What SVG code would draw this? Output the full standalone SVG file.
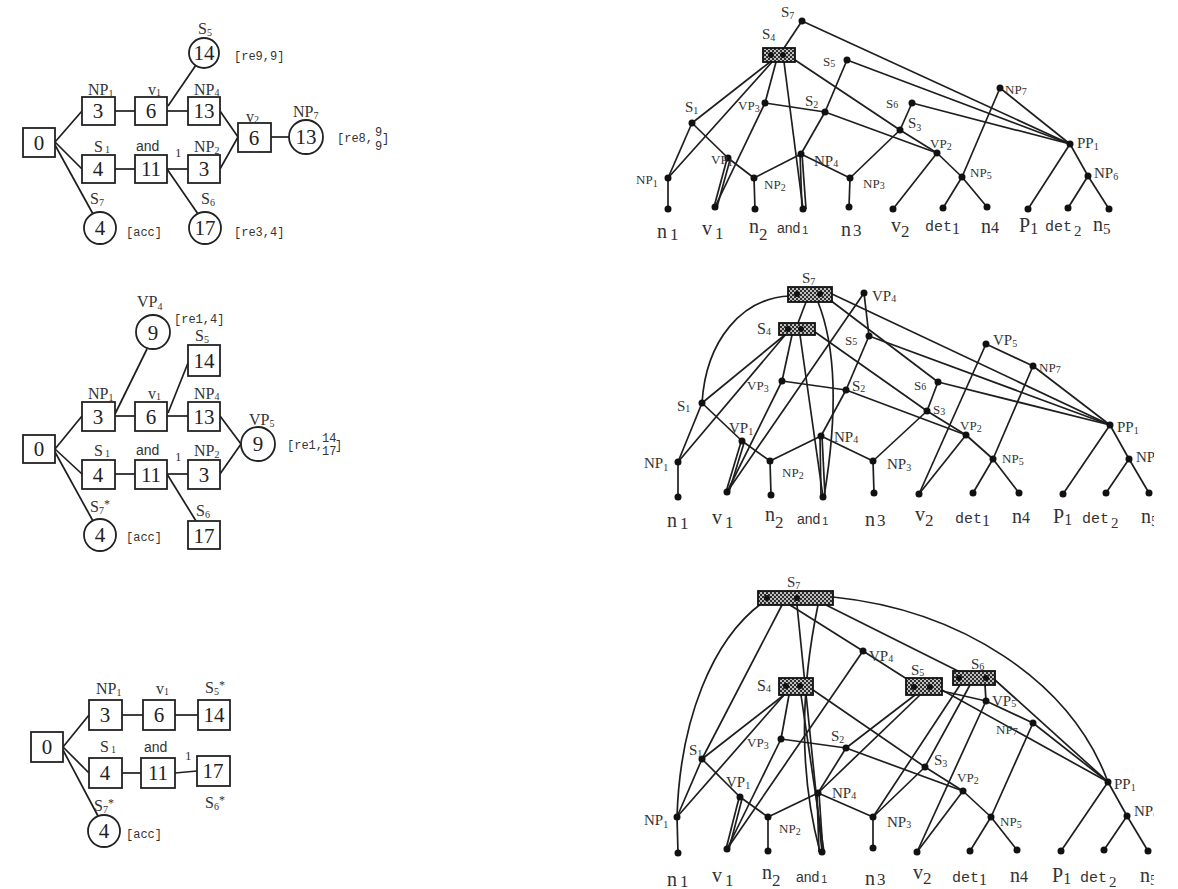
<svg xmlns="http://www.w3.org/2000/svg" width="1178" height="889" viewBox="0 0 1178 889">
<style>
.e{stroke:#1e1e1e;stroke-width:1.7;fill:none}
.d{fill:#111}
.bx{fill:#fff;stroke:#222;stroke-width:1.8}
.ci{fill:#fff;stroke:#222;stroke-width:1.8}
.hb{fill:url(#hatch);stroke:#111;stroke-width:1.8}
.num{font-family:"Liberation Serif",serif;font-size:21px;text-anchor:middle;fill:#222}
.lb{font-family:"Liberation Serif",serif;font-size:16px;fill:#333}
.br{font-family:"Liberation Mono",monospace;font-size:12px;fill:#333}
.tl{font-family:"Liberation Serif",serif;font-size:15px;fill:#333}
.sm{font-family:"Liberation Serif",serif;font-size:13px;fill:#333}
.lf{font-family:"Liberation Serif",serif;font-size:20px;fill:#333}
.lm{font-family:"Liberation Mono",monospace;font-size:15px;fill:#333}
.la{font-family:"Liberation Sans",sans-serif;font-size:14px;fill:#333}
.s{font-size:10px}
.s2{font-size:12px}
</style>
<defs>
<pattern id="hatch" width="4" height="4" patternUnits="userSpaceOnUse">
<rect width="4" height="4" fill="#2e2e2e"/>
<rect width="2" height="2" fill="#bdbdbd"/>
<rect x="2" y="2" width="2" height="2" fill="#bdbdbd"/>
</pattern>
<clipPath id="crop"><rect x="0" y="0" width="1154" height="889"/></clipPath>
</defs>

<!-- ============ connectors ============ -->
<g id="connectors" class="e">
<!-- left top -->
<line x1="55" y1="142" x2="82" y2="111"/>
<line x1="55" y1="142" x2="82" y2="169"/>
<line x1="55" y1="145" x2="93" y2="214"/>
<line x1="115" y1="111" x2="135" y2="111"/>
<line x1="167" y1="111" x2="188" y2="111"/>
<line x1="168" y1="106" x2="196" y2="65"/>
<line x1="220" y1="111" x2="238" y2="137"/>
<line x1="220" y1="169" x2="238" y2="137"/>
<line x1="271" y1="137" x2="289" y2="137"/>
<line x1="115" y1="169" x2="135" y2="169"/>
<line x1="167" y1="169" x2="188" y2="169"/>
<line x1="167" y1="169" x2="198" y2="214"/>
<!-- left middle -->
<line x1="55" y1="449" x2="82" y2="416"/>
<line x1="55" y1="449" x2="82" y2="474"/>
<line x1="55" y1="452" x2="93" y2="521"/>
<line x1="115" y1="416" x2="135" y2="416"/>
<line x1="115" y1="414" x2="147" y2="349"/>
<line x1="167" y1="416" x2="188" y2="416"/>
<line x1="168" y1="413" x2="188" y2="363"/>
<line x1="220" y1="416" x2="241" y2="444"/>
<line x1="220" y1="474" x2="241" y2="444"/>
<line x1="115" y1="474" x2="135" y2="474"/>
<line x1="167" y1="474" x2="188" y2="474"/>
<line x1="167" y1="474" x2="196" y2="521"/>
<!-- left bottom -->
<line x1="63" y1="747" x2="89" y2="715"/>
<line x1="63" y1="747" x2="89" y2="773"/>
<line x1="63" y1="750" x2="98" y2="816"/>
<line x1="122" y1="715" x2="143" y2="715"/>
<line x1="175" y1="715" x2="198" y2="715"/>
<line x1="122" y1="773" x2="141" y2="773"/>
<line x1="175" y1="773" x2="197" y2="771"/>

<!-- top tree -->
<line x1="668" y1="178" x2="668" y2="209"/>
<line x1="754" y1="178" x2="755" y2="209"/>
<line x1="850" y1="178" x2="849" y2="207"/>
<line x1="692" y1="123" x2="668" y2="178"/>
<line x1="692" y1="123" x2="728" y2="158"/>
<line x1="728" y1="158" x2="754" y2="178"/>
<line x1="727" y1="159" x2="714" y2="207"/>
<line x1="730" y1="160" x2="717" y2="207"/>
<line x1="772" y1="62" x2="668" y2="178"/>
<line x1="770" y1="62" x2="692" y2="123"/>
<line x1="776" y1="62" x2="765" y2="103"/>
<line x1="784" y1="62" x2="803" y2="209"/>
<line x1="795" y1="60" x2="900" y2="130"/>
<line x1="802" y1="21" x2="784" y2="48"/>
<line x1="765" y1="103" x2="715" y2="207"/>
<line x1="765" y1="103" x2="825" y2="112"/>
<line x1="847" y1="60" x2="825" y2="112"/>
<line x1="825" y1="112" x2="801" y2="154"/>
<line x1="825" y1="112" x2="937" y2="153"/>
<line x1="801" y1="154" x2="754" y2="178"/>
<line x1="801" y1="154" x2="850" y2="178"/>
<line x1="800" y1="154" x2="802" y2="209"/>
<line x1="802" y1="154" x2="806" y2="209"/>
<line x1="850" y1="178" x2="900" y2="130"/>
<line x1="912" y1="103" x2="900" y2="130"/>
<line x1="900" y1="130" x2="937" y2="153"/>
<line x1="937" y1="153" x2="893" y2="209"/>
<line x1="937" y1="153" x2="962" y2="177"/>
<line x1="962" y1="177" x2="943" y2="208"/>
<line x1="962" y1="177" x2="987" y2="207"/>
<line x1="1000" y1="88" x2="962" y2="177"/>
<line x1="1000" y1="88" x2="1070" y2="144"/>
<line x1="802" y1="21" x2="1070" y2="144"/>
<line x1="847" y1="60" x2="1070" y2="144"/>
<line x1="912" y1="103" x2="1070" y2="144"/>
<line x1="1070" y1="144" x2="1028" y2="209"/>
<line x1="1070" y1="144" x2="1088" y2="176"/>
<line x1="1088" y1="176" x2="1068" y2="208"/>
<line x1="1088" y1="176" x2="1109" y2="209"/>

<!-- middle tree -->
<line x1="678" y1="462" x2="678" y2="497"/>
<line x1="770" y1="461" x2="771" y2="495"/>
<line x1="873" y1="461" x2="874" y2="493"/>
<line x1="702" y1="403" x2="678" y2="462"/>
<line x1="702" y1="403" x2="742" y2="441"/>
<line x1="742" y1="441" x2="770" y2="461"/>
<line x1="741" y1="442" x2="726" y2="492"/>
<line x1="744" y1="443" x2="729" y2="492"/>
<line x1="786" y1="334" x2="678" y2="462"/>
<line x1="786" y1="334" x2="702" y2="403"/>
<line x1="792" y1="335" x2="782" y2="381"/>
<line x1="800" y1="335" x2="823" y2="497"/>
<line x1="815" y1="332" x2="927" y2="411"/>
<line x1="806" y1="302" x2="798" y2="323"/>
<path d="M790,296 C742,298 706,340 702,403"/>
<path d="M818,302 Q845,370 824,497"/>
<line x1="782" y1="381" x2="727" y2="492"/>
<line x1="864" y1="293" x2="727" y2="492"/>
<line x1="864" y1="293" x2="869" y2="336"/>
<line x1="782" y1="381" x2="846" y2="390"/>
<line x1="869" y1="336" x2="846" y2="390"/>
<line x1="846" y1="390" x2="821" y2="436"/>
<line x1="846" y1="390" x2="966" y2="435"/>
<line x1="821" y1="436" x2="770" y2="461"/>
<line x1="821" y1="436" x2="873" y2="461"/>
<line x1="820" y1="436" x2="821" y2="497"/>
<line x1="822" y1="436" x2="825" y2="497"/>
<line x1="873" y1="461" x2="927" y2="411"/>
<line x1="938" y1="382" x2="927" y2="411"/>
<line x1="927" y1="411" x2="966" y2="435"/>
<line x1="966" y1="435" x2="919" y2="494"/>
<line x1="966" y1="435" x2="993" y2="459"/>
<line x1="993" y1="459" x2="973" y2="493"/>
<line x1="993" y1="459" x2="1019" y2="493"/>
<line x1="986" y1="344" x2="919" y2="494"/>
<line x1="986" y1="344" x2="1033" y2="366"/>
<line x1="1033" y1="366" x2="993" y2="459"/>
<line x1="1033" y1="366" x2="1110" y2="425"/>
<line x1="832" y1="294" x2="1110" y2="425"/>
<line x1="830" y1="300" x2="938" y2="382"/>
<line x1="869" y1="336" x2="1110" y2="425"/>
<line x1="938" y1="382" x2="1110" y2="425"/>
<line x1="1110" y1="425" x2="1063" y2="494"/>
<line x1="1110" y1="425" x2="1129" y2="459"/>
<line x1="1129" y1="459" x2="1106" y2="493"/>
<line x1="1129" y1="459" x2="1149" y2="493"/>

<!-- bottom tree -->
<line x1="677" y1="817" x2="678" y2="853"/>
<line x1="768" y1="817" x2="768" y2="851"/>
<line x1="873" y1="817" x2="873" y2="848"/>
<line x1="702" y1="759" x2="677" y2="817"/>
<line x1="702" y1="759" x2="740" y2="797"/>
<line x1="740" y1="797" x2="768" y2="817"/>
<line x1="739" y1="798" x2="726" y2="849"/>
<line x1="742" y1="799" x2="729" y2="849"/>
<path d="M762,603 C712,640 680,720 677,817"/>
<line x1="782" y1="605" x2="702" y2="759"/>
<line x1="797" y1="605" x2="822" y2="852"/>
<path d="M818,605 Q790,740 820,852"/>
<line x1="790" y1="605" x2="863" y2="651"/>
<line x1="826" y1="605" x2="960" y2="672"/>
<path d="M833,597 C960,610 1070,680 1108,782"/>
<line x1="784" y1="695" x2="677" y2="817"/>
<line x1="784" y1="695" x2="702" y2="759"/>
<line x1="789" y1="695" x2="781" y2="739"/>
<line x1="801" y1="695" x2="824" y2="852"/>
<line x1="813" y1="690" x2="925" y2="767"/>
<line x1="781" y1="739" x2="727" y2="849"/>
<line x1="863" y1="651" x2="727" y2="849"/>
<line x1="863" y1="651" x2="910" y2="681"/>
<line x1="781" y1="739" x2="846" y2="748"/>
<line x1="915" y1="695" x2="846" y2="748"/>
<line x1="920" y1="695" x2="818" y2="793"/>
<line x1="942" y1="690" x2="1108" y2="782"/>
<line x1="938" y1="690" x2="986" y2="701"/>
<line x1="846" y1="748" x2="818" y2="793"/>
<line x1="846" y1="748" x2="963" y2="791"/>
<line x1="818" y1="793" x2="768" y2="817"/>
<line x1="818" y1="793" x2="873" y2="817"/>
<line x1="817" y1="793" x2="819" y2="852"/>
<line x1="819" y1="793" x2="823" y2="852"/>
<line x1="873" y1="817" x2="925" y2="767"/>
<line x1="970" y1="685" x2="925" y2="767"/>
<line x1="960" y1="685" x2="873" y2="817"/>
<line x1="985" y1="685" x2="986" y2="701"/>
<line x1="995" y1="680" x2="1108" y2="782"/>
<line x1="925" y1="767" x2="963" y2="791"/>
<line x1="963" y1="791" x2="917" y2="852"/>
<line x1="963" y1="791" x2="991" y2="817"/>
<line x1="991" y1="817" x2="970" y2="851"/>
<line x1="991" y1="817" x2="1017" y2="850"/>
<line x1="986" y1="701" x2="917" y2="852"/>
<line x1="986" y1="701" x2="1033" y2="723"/>
<line x1="1033" y1="723" x2="991" y2="817"/>
<line x1="1033" y1="723" x2="1108" y2="782"/>
<line x1="1108" y1="782" x2="1061" y2="851"/>
<line x1="1108" y1="782" x2="1127" y2="816"/>
<line x1="1127" y1="816" x2="1104" y2="850"/>
<line x1="1127" y1="816" x2="1148" y2="851"/>
</g>

<!-- ============ left top graph ============ -->
<g id="L1-0"><rect class="bx" x="23" y="128" width="32" height="29"/><text class="num" x="39" y="150">0</text></g>
<g id="L1-NP1"><rect class="bx" x="82" y="97" width="33" height="28"/><text class="num" x="98" y="118">3</text><text class="lb" x="88" y="95">NP<tspan class="s" dy="2">1</tspan></text></g>
<g id="L1-v1"><rect class="bx" x="135" y="97" width="32" height="28"/><text class="num" x="151" y="118">6</text><text class="lb" x="148" y="95">v<tspan class="s" dy="1">1</tspan></text></g>
<g id="L1-NP4"><rect class="bx" x="188" y="97" width="32" height="28"/><text class="num" x="204" y="118">13</text><text class="lb" x="194" y="95">NP<tspan class="s" dy="1">4</tspan></text></g>
<g id="L1-S1"><rect class="bx" x="82" y="155" width="33" height="28"/><text class="num" x="98" y="176">4</text><text class="lb" x="94" y="152">S<tspan class="s" dx="2" dy="1">1</tspan></text></g>
<g id="L1-and"><rect class="bx" x="135" y="155" width="32" height="28"/><text class="num" x="151" y="176">11</text><text class="la" x="136" y="151">and</text><text class="sm" x="175" y="157">1</text></g>
<g id="L1-NP2"><rect class="bx" x="188" y="155" width="32" height="28"/><text class="num" x="204" y="176">3</text><text class="lb" x="194" y="152">NP<tspan class="s" dy="2">2</tspan></text></g>
<g id="L1-v2"><rect class="bx" x="238" y="123" width="33" height="29"/><text class="num" x="254" y="145">6</text><text class="lb" x="246" y="122">v<tspan class="s" dy="1">2</tspan></text></g>
<g id="L1-NP7"><circle class="ci" cx="306" cy="137" r="17"/><text class="num" x="306" y="144">13</text><text class="lb" x="293" y="117">NP<tspan class="s" dy="2">7</tspan></text><text class="br" x="337" y="142">[re8,</text><text class="br" x="375" y="136" font-size="10">9</text><text class="br" x="375" y="150" font-size="10">9</text><text class="br" x="382" y="142">]</text></g>
<g id="L1-S5"><circle class="ci" cx="204" cy="53" r="15"/><text class="num" x="204" y="60">14</text><text class="lb" x="198" y="34">S<tspan class="s" dy="2">5</tspan></text><text class="br" x="234" y="60">[re9,9]</text></g>
<g id="L1-S7"><circle class="ci" cx="100" cy="228" r="16"/><text class="num" x="100" y="235">4</text><text class="lb" x="90" y="204">S<tspan class="s" dy="2">7</tspan></text><text class="br" x="126" y="236">[acc]</text></g>
<g id="L1-S6"><circle class="ci" cx="205" cy="228" r="16"/><text class="num" x="205" y="235">17</text><text class="lb" x="201" y="204">S<tspan class="s" dy="2">6</tspan></text><text class="br" x="234" y="236">[re3,4]</text></g>

<!-- ============ left middle graph ============ -->
<g id="L2-0"><rect class="bx" x="23" y="435" width="32" height="28"/><text class="num" x="39" y="456">0</text></g>
<g id="L2-NP1"><rect class="bx" x="82" y="402" width="33" height="29"/><text class="num" x="98" y="424">3</text><text class="lb" x="88" y="399">NP<tspan class="s" dy="2">1</tspan></text></g>
<g id="L2-v1"><rect class="bx" x="135" y="402" width="32" height="29"/><text class="num" x="151" y="424">6</text><text class="lb" x="148" y="399">v<tspan class="s" dy="1">1</tspan></text></g>
<g id="L2-NP4"><rect class="bx" x="188" y="402" width="32" height="29"/><text class="num" x="204" y="424">13</text><text class="lb" x="194" y="399">NP<tspan class="s" dy="1">4</tspan></text></g>
<g id="L2-S1"><rect class="bx" x="82" y="460" width="33" height="29"/><text class="num" x="98" y="482">4</text><text class="lb" x="94" y="456">S<tspan class="s" dx="2" dy="1">1</tspan></text></g>
<g id="L2-and"><rect class="bx" x="135" y="460" width="32" height="29"/><text class="num" x="151" y="482">11</text><text class="la" x="136" y="455">and</text><text class="sm" x="175" y="461">1</text></g>
<g id="L2-NP2"><rect class="bx" x="188" y="460" width="32" height="29"/><text class="num" x="204" y="482">3</text><text class="lb" x="194" y="456">NP<tspan class="s" dy="2">2</tspan></text></g>
<g id="L2-VP4"><circle class="ci" cx="153" cy="332" r="17"/><text class="num" x="153" y="340">9</text><text class="lb" x="137" y="307">VP<tspan class="s" dy="3">4</tspan></text><text class="br" x="174" y="323">[re1,4]</text></g>
<g id="L2-S5"><rect class="bx" x="188" y="345" width="32" height="31"/><text class="num" x="204" y="368">14</text><text class="lb" x="195" y="341">S<tspan class="s" dy="2">5</tspan></text></g>
<g id="L2-VP5"><circle class="ci" cx="258" cy="444" r="17"/><text class="num" x="258" y="451">9</text><text class="lb" x="249" y="425">VP<tspan class="s" dy="2">5</tspan></text><text class="br" x="287" y="449">[re1,</text><text class="br" x="322" y="442" font-size="9">14</text><text class="br" x="322" y="455" font-size="9">17</text><text class="br" x="335" y="449">]</text></g>
<g id="L2-S7"><circle class="ci" cx="100" cy="535" r="16"/><text class="num" x="100" y="542">4</text><text class="lb" x="90" y="512">S<tspan class="s" dy="2">7</tspan><tspan class="s2" dy="-6">*</tspan></text><text class="br" x="126" y="541">[acc]</text></g>
<g id="L2-S6"><rect class="bx" x="188" y="521" width="32" height="28"/><text class="num" x="204" y="543">17</text><text class="lb" x="196" y="516">S<tspan class="s" dy="2">6</tspan></text></g>

<!-- ============ left bottom graph ============ -->
<g id="L3-0"><rect class="bx" x="31" y="732" width="32" height="30"/><text class="num" x="47" y="754">0</text></g>
<g id="L3-NP1"><rect class="bx" x="89" y="700" width="33" height="30"/><text class="num" x="105" y="722">3</text><text class="lb" x="96" y="694">NP<tspan class="s" dy="2">1</tspan></text></g>
<g id="L3-v1"><rect class="bx" x="143" y="700" width="32" height="30"/><text class="num" x="159" y="722">6</text><text class="lb" x="156" y="694">v<tspan class="s" dy="1">1</tspan></text></g>
<g id="L3-S5"><rect class="bx" x="198" y="700" width="32" height="30"/><text class="lb" x="205" y="693">S<tspan class="s" dy="2">5</tspan><tspan class="s2" dy="-6">*</tspan></text><text class="num" x="214" y="722">14</text></g>
<g id="L3-S1"><rect class="bx" x="89" y="758" width="33" height="30"/><text class="num" x="105" y="780">4</text><text class="lb" x="100" y="752">S<tspan class="s" dx="2" dy="1">1</tspan></text></g>
<g id="L3-and"><rect class="bx" x="141" y="758" width="34" height="30"/><text class="num" x="158" y="780">11</text><text class="la" x="144" y="752">and</text><text class="sm" x="185" y="760">1</text></g>
<g id="L3-S6"><rect class="bx" x="197" y="756" width="33" height="30"/><text class="num" x="213" y="778">17</text><text class="lb" x="205" y="808">S<tspan class="s" dy="2">6</tspan><tspan class="s2" dy="-6">*</tspan></text></g>
<g id="L3-S7"><circle class="ci" cx="104" cy="831" r="16"/><text class="num" x="104" y="838">4</text><text class="lb" x="94" y="811">S<tspan class="s" dy="2">7</tspan><tspan class="s2" dy="-6">*</tspan></text><text class="br" x="126" y="838">[acc]</text></g>

<!-- ============ top tree ============ -->
<g id="T-S7"><circle class="d" cx="802" cy="21" r="3.5"/><text class="tl" x="781" y="17">S<tspan class="s" dy="2">7</tspan></text></g>
<g id="T-S4"><rect class="hb" x="763" y="48" width="32" height="14"/><circle class="d" cx="771" cy="55" r="3"/><circle class="d" cx="783" cy="55" r="3"/><text class="tl" x="762" y="39">S<tspan class="s" dy="2">4</tspan></text></g>
<g id="T-S5"><circle class="d" cx="847" cy="60" r="3.5"/><text class="sm" x="823" y="66">S<tspan class="s" dy="1">5</tspan></text></g>
<g id="T-S1"><circle class="d" cx="692" cy="123" r="3.5"/><text class="tl" x="685" y="112">S<tspan class="s" dy="2">1</tspan></text></g>
<g id="T-VP3"><circle class="d" cx="765" cy="103" r="3.5"/><text class="sm" x="738" y="110">VP<tspan class="s" dy="2">3</tspan></text></g>
<g id="T-S2"><circle class="d" cx="825" cy="112" r="3.5"/><text class="tl" x="805" y="106">S<tspan class="s" dy="2">2</tspan></text></g>
<g id="T-VP1"><circle class="d" cx="728" cy="158" r="3.5"/><text class="sm" x="711" y="164">VP<tspan class="s" dy="2">1</tspan></text></g>
<g id="T-NP1"><circle class="d" cx="668" cy="178" r="3.5"/><text class="sm" x="636" y="184">NP<tspan class="s" dy="3">1</tspan></text></g>
<g id="T-NP2"><circle class="d" cx="754" cy="178" r="3.5"/><text class="sm" x="764" y="189" font-size="11">NP<tspan class="s" font-size="9" dy="2">2</tspan></text></g>
<g id="T-NP4"><circle class="d" cx="801" cy="154" r="3.5"/><text class="tl" x="814" y="166">NP<tspan class="s" dy="1">4</tspan></text></g>
<g id="T-NP3"><circle class="d" cx="850" cy="178" r="3.5"/><text class="sm" x="863" y="188">NP<tspan class="s" dy="1">3</tspan></text></g>
<g id="T-S6"><circle class="d" cx="912" cy="103" r="3.5"/><text class="sm" x="886" y="108">S<tspan class="s" dy="0">6</tspan></text></g>
<g id="T-S3"><circle class="d" cx="900" cy="130" r="3.5"/><text class="tl" x="908" y="128">S<tspan class="s" dy="3">3</tspan></text></g>
<g id="T-VP2"><circle class="d" cx="937" cy="153" r="3.5"/><text class="sm" x="930" y="148">VP<tspan class="s" dy="2">2</tspan></text></g>
<g id="T-NP5"><circle class="d" cx="962" cy="177" r="3.5"/><text class="sm" x="970" y="177" font-size="11">NP<tspan class="s" dy="2">5</tspan></text></g>
<g id="T-NP7"><circle class="d" cx="1000" cy="88" r="3.5"/><text class="sm" x="1005" y="94">NP<tspan class="s" dy="1">7</tspan></text></g>
<g id="T-PP1"><circle class="d" cx="1070" cy="144" r="3.5"/><text class="tl" x="1077" y="148">PP<tspan class="s" dy="2">1</tspan></text></g>
<g id="T-NP6"><circle class="d" cx="1088" cy="176" r="3.5"/><text class="tl" x="1094" y="178">NP<tspan class="s" dy="2">6</tspan></text></g>
<g id="T-leaves">
<circle class="d" cx="668" cy="209" r="3.5"/><circle class="d" cx="715" cy="207" r="3.5"/><circle class="d" cx="755" cy="209" r="3.5"/><circle class="d" cx="803" cy="209" r="3.5"/><circle class="d" cx="849" cy="207" r="3.5"/><circle class="d" cx="893" cy="209" r="3.5"/><circle class="d" cx="943" cy="208" r="3.5"/><circle class="d" cx="987" cy="207" r="3.5"/><circle class="d" cx="1028" cy="209" r="3.5"/><circle class="d" cx="1068" cy="208" r="3.5"/><circle class="d" cx="1109" cy="209" r="3.5"/>
<text class="lf" x="657" y="238">n<tspan dx="3" dy="2" font-size="17">1</tspan></text>
<text class="lf" x="702" y="235">v<tspan dx="3" dy="4" font-size="17">1</tspan></text>
<text class="lf" x="749" y="233">n<tspan dy="7" font-size="17">2</tspan></text>
<text class="la" x="777" y="233">and<tspan dx="2" dy="1" font-size="11">1</tspan></text>
<text class="lf" x="841" y="236">n<tspan dx="2" font-size="17">3</tspan></text>
<text class="lf" x="891" y="232">v<tspan dy="5" font-size="17">2</tspan></text>
<text class="lm" x="925" y="231">det<tspan dy="3" font-size="16" font-family="Liberation Serif">1</tspan></text>
<text class="lf" x="981" y="233">n<tspan font-size="16">4</tspan></text>
<text class="lf" x="1019" y="232">P<tspan dy="2" font-size="16">1</tspan></text>
<text class="lm" x="1045" y="231">det<tspan dx="2" dy="5" font-size="15" font-family="Liberation Serif">2</tspan></text>
<text class="lf" x="1093" y="231">n<tspan dy="3" font-size="15">5</tspan></text>
</g>

<!-- ============ middle tree ============ -->
<g id="M-S7"><rect class="hb" x="788" y="287" width="44" height="15"/><circle class="d" cx="797" cy="294" r="3"/><circle class="d" cx="820" cy="294" r="3"/><text class="tl" x="802" y="283">S<tspan class="s" dy="2">7</tspan></text></g>
<g id="M-S4"><rect class="hb" x="779" y="323" width="36" height="12"/><circle class="d" cx="788" cy="329" r="3"/><circle class="d" cx="801" cy="329" r="3"/><text class="lb" x="757" y="334" font-size="17">S<tspan class="s" dy="1">4</tspan></text></g>
<g id="M-VP4"><circle class="d" cx="864" cy="293" r="3.5"/><text class="tl" x="872" y="301">VP<tspan class="s" dy="1">4</tspan></text></g>
<g id="M-S5"><circle class="d" cx="869" cy="336" r="3.5"/><text class="sm" x="845" y="345">S<tspan class="s" dy="0">5</tspan></text></g>
<g id="M-S1"><circle class="d" cx="702" cy="403" r="3.5"/><text class="tl" x="677" y="411">S<tspan class="s" dy="1">1</tspan></text></g>
<g id="M-VP3"><circle class="d" cx="782" cy="381" r="3.5"/><text class="sm" x="747" y="390">VP<tspan class="s" dy="2">3</tspan></text></g>
<g id="M-S2"><circle class="d" cx="846" cy="390" r="3.5"/><text class="tl" x="852" y="391">S<tspan class="s" dy="1">2</tspan></text></g>
<g id="M-VP1"><circle class="d" cx="742" cy="441" r="3.5"/><text class="tl" x="729" y="433">VP<tspan class="s" dy="2">1</tspan></text></g>
<g id="M-NP4"><circle class="d" cx="821" cy="436" r="3.5"/><text class="tl" x="834" y="442">NP<tspan class="s" dy="1">4</tspan></text></g>
<g id="M-NP1"><circle class="d" cx="678" cy="462" r="3.5"/><text class="tl" x="644" y="468">NP<tspan class="s" dy="3">1</tspan></text></g>
<g id="M-NP2"><circle class="d" cx="770" cy="461" r="3.5"/><text class="sm" x="782" y="477" font-size="11">NP<tspan class="s" dy="2">2</tspan></text></g>
<g id="M-NP3"><circle class="d" cx="873" cy="461" r="3.5"/><text class="tl" x="887" y="469">NP<tspan class="s" dy="2">3</tspan></text></g>
<g id="M-S6"><circle class="d" cx="938" cy="382" r="3.5"/><text class="sm" x="914" y="390">S<tspan class="s" dy="0">6</tspan></text></g>
<g id="M-S3"><circle class="d" cx="927" cy="411" r="3.5"/><text class="sm" x="933" y="414">S<tspan class="s" dy="1">3</tspan></text></g>
<g id="M-VP2"><circle class="d" cx="966" cy="435" r="3.5"/><text class="sm" x="960" y="430">VP<tspan class="s" dy="2">2</tspan></text></g>
<g id="M-NP5"><circle class="d" cx="993" cy="459" r="3.5"/><text class="sm" x="1002" y="463" font-size="11">NP<tspan class="s" dy="2">5</tspan></text></g>
<g id="M-VP5"><circle class="d" cx="986" cy="344" r="3.5"/><text class="tl" x="993" y="345">VP<tspan class="s" dy="2">5</tspan></text></g>
<g id="M-NP7"><circle class="d" cx="1033" cy="366" r="3.5"/><text class="sm" x="1039" y="372">NP<tspan class="s" dy="1">7</tspan></text></g>
<g id="M-PP1"><circle class="d" cx="1110" cy="425" r="3.5"/><text class="tl" x="1117" y="432">PP<tspan class="s" dy="2">1</tspan></text></g>
<g id="M-NP6" clip-path="url(#crop)"><circle class="d" cx="1129" cy="459" r="3.5"/><text class="tl" x="1136" y="462">NP<tspan class="s" dy="2">6</tspan></text></g>
<g id="M-leaves" clip-path="url(#crop)">
<circle class="d" cx="678" cy="497" r="3.5"/><circle class="d" cx="727" cy="492" r="3.5"/><circle class="d" cx="771" cy="495" r="3.5"/><circle class="d" cx="823" cy="497" r="3.5"/><circle class="d" cx="874" cy="493" r="3.5"/><circle class="d" cx="919" cy="494" r="3.5"/><circle class="d" cx="973" cy="493" r="3.5"/><circle class="d" cx="1019" cy="493" r="3.5"/><circle class="d" cx="1063" cy="494" r="3.5"/><circle class="d" cx="1106" cy="493" r="3.5"/><circle class="d" cx="1149" cy="493" r="3.5"/>
<text class="lf" x="667" y="527">n<tspan dx="3" dy="2" font-size="17">1</tspan></text>
<text class="lf" x="712" y="524">v<tspan dx="3" dy="4" font-size="17">1</tspan></text>
<text class="lf" x="765" y="521">n<tspan dy="7" font-size="17">2</tspan></text>
<text class="la" x="797" y="524">and<tspan dx="2" dy="1" font-size="11">1</tspan></text>
<text class="lf" x="865" y="526">n<tspan dx="2" font-size="17">3</tspan></text>
<text class="lf" x="915" y="521">v<tspan dy="5" font-size="17">2</tspan></text>
<text class="lm" x="955" y="523">det<tspan dy="3" font-size="16" font-family="Liberation Serif">1</tspan></text>
<text class="lf" x="1012" y="523">n<tspan font-size="16">4</tspan></text>
<text class="lf" x="1053" y="523">P<tspan dy="2" font-size="16">1</tspan></text>
<text class="lm" x="1082" y="523">det<tspan dx="2" dy="5" font-size="15" font-family="Liberation Serif">2</tspan></text>
<text class="lf" x="1141" y="523">n<tspan dy="3" font-size="15">5</tspan></text>
</g>

<!-- ============ bottom tree ============ -->
<g id="B-S7"><rect class="hb" x="758" y="591" width="75" height="14"/><circle class="d" cx="767" cy="598" r="3"/><circle class="d" cx="797" cy="598" r="3"/><text class="tl" x="787" y="587">S<tspan class="s" dy="2">7</tspan></text></g>
<g id="B-S4"><rect class="hb" x="779" y="678" width="34" height="17"/><circle class="d" cx="786" cy="686" r="3"/><circle class="d" cx="800" cy="686" r="3"/><text class="lb" x="757" y="691" font-size="17">S<tspan class="s" dy="1">4</tspan></text></g>
<g id="B-S5"><rect class="hb" x="906" y="678" width="36" height="17"/><circle class="d" cx="914" cy="687" r="3"/><circle class="d" cx="930" cy="687" r="3"/><text class="tl" x="911" y="675">S<tspan class="s" dy="1">5</tspan></text></g>
<g id="B-S6"><rect class="hb" x="953" y="671" width="42" height="14"/><circle class="d" cx="959" cy="678" r="3"/><circle class="d" cx="986" cy="678" r="3"/><text class="tl" x="971" y="669">S<tspan class="s" dy="1">6</tspan></text></g>
<g id="B-VP4"><circle class="d" cx="863" cy="651" r="3.5"/><text class="tl" x="869" y="661">VP<tspan class="s" dy="1">4</tspan></text></g>
<g id="B-S1"><circle class="d" cx="702" cy="759" r="3.5"/><text class="tl" x="689" y="755">S<tspan class="s" dy="2">1</tspan></text></g>
<g id="B-VP3"><circle class="d" cx="781" cy="739" r="3.5"/><text class="sm" x="747" y="747">VP<tspan class="s" dy="2">3</tspan></text></g>
<g id="B-S2"><circle class="d" cx="846" cy="748" r="3.5"/><text class="tl" x="831" y="741">S<tspan class="s" dy="2">2</tspan></text></g>
<g id="B-VP1"><circle class="d" cx="740" cy="797" r="3.5"/><text class="tl" x="726" y="787">VP<tspan class="s" dy="2">1</tspan></text></g>
<g id="B-NP4"><circle class="d" cx="818" cy="793" r="3.5"/><text class="tl" x="832" y="798">NP<tspan class="s" dy="1">4</tspan></text></g>
<g id="B-NP1"><circle class="d" cx="677" cy="817" r="3.5"/><text class="tl" x="644" y="825">NP<tspan class="s" dy="3">1</tspan></text></g>
<g id="B-NP2"><circle class="d" cx="768" cy="817" r="3.5"/><text class="sm" x="779" y="833" font-size="11">NP<tspan class="s" dy="2">2</tspan></text></g>
<g id="B-NP3"><circle class="d" cx="873" cy="817" r="3.5"/><text class="tl" x="887" y="827">NP<tspan class="s" dy="1">3</tspan></text></g>
<g id="B-VP5"><circle class="d" cx="986" cy="701" r="3.5"/><text class="tl" x="992" y="706">VP<tspan class="s" dy="1">5</tspan></text></g>
<g id="B-NP7"><circle class="d" cx="1033" cy="723" r="3.5"/><text class="sm" x="996" y="734">NP<tspan class="s" dy="1">7</tspan></text></g>
<g id="B-S3"><circle class="d" cx="925" cy="767" r="3.5"/><text class="tl" x="934" y="765">S<tspan class="s" dy="2">3</tspan></text></g>
<g id="B-VP2"><circle class="d" cx="963" cy="791" r="3.5"/><text class="sm" x="957" y="782">VP<tspan class="s" dy="2">2</tspan></text></g>
<g id="B-NP5"><circle class="d" cx="991" cy="817" r="3.5"/><text class="sm" x="1000" y="826" font-size="11">NP<tspan class="s" dy="2">5</tspan></text></g>
<g id="B-PP1"><circle class="d" cx="1108" cy="782" r="3.5"/><text class="tl" x="1114" y="789">PP<tspan class="s" dy="2">1</tspan></text></g>
<g id="B-NP6" clip-path="url(#crop)"><circle class="d" cx="1127" cy="816" r="3.5"/><text class="tl" x="1134" y="816">NP<tspan class="s" dy="2">6</tspan></text></g>
<g id="B-leaves" clip-path="url(#crop)">
<circle class="d" cx="678" cy="853" r="3.5"/><circle class="d" cx="727" cy="849" r="3.5"/><circle class="d" cx="768" cy="851" r="3.5"/><circle class="d" cx="822" cy="852" r="3.5"/><circle class="d" cx="873" cy="848" r="3.5"/><circle class="d" cx="917" cy="852" r="3.5"/><circle class="d" cx="970" cy="851" r="3.5"/><circle class="d" cx="1017" cy="850" r="3.5"/><circle class="d" cx="1061" cy="851" r="3.5"/><circle class="d" cx="1104" cy="850" r="3.5"/><circle class="d" cx="1148" cy="851" r="3.5"/>
<text class="lf" x="667" y="886">n<tspan dx="3" dy="1" font-size="17">1</tspan></text>
<text class="lf" x="712" y="882">v<tspan dx="3" dy="4" font-size="17">1</tspan></text>
<text class="lf" x="762" y="879">n<tspan dy="7" font-size="17">2</tspan></text>
<text class="la" x="796" y="882">and<tspan dx="2" dy="1" font-size="11">1</tspan></text>
<text class="lf" x="865" y="885">n<tspan dx="2" font-size="17">3</tspan></text>
<text class="lf" x="913" y="879">v<tspan dy="5" font-size="17">2</tspan></text>
<text class="lm" x="952" y="882">det<tspan dy="3" font-size="16" font-family="Liberation Serif">1</tspan></text>
<text class="lf" x="1010" y="882">n<tspan font-size="16">4</tspan></text>
<text class="lf" x="1052" y="882">P<tspan dy="2" font-size="16">1</tspan></text>
<text class="lm" x="1080" y="882">det<tspan dx="2" dy="5" font-size="15" font-family="Liberation Serif">2</tspan></text>
<text class="lf" x="1140" y="882">n<tspan dy="3" font-size="15">5</tspan></text>
</g>
</svg>
